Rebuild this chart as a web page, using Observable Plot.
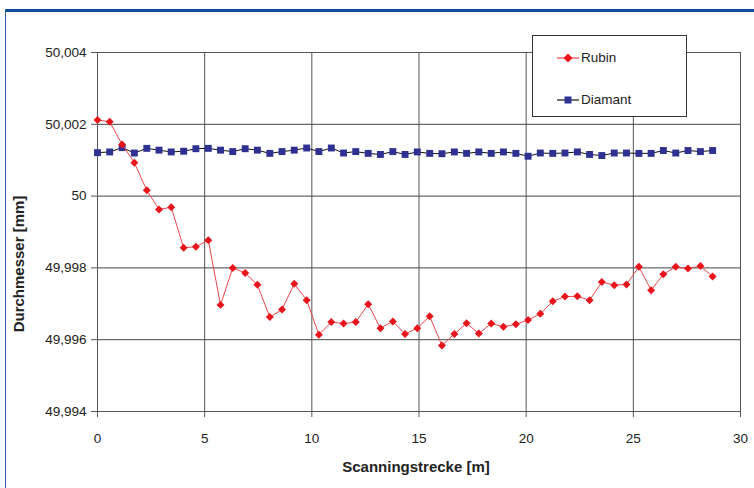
<!DOCTYPE html>
<html><head><meta charset="utf-8">
<script src="https://cdn.jsdelivr.net/npm/d3@7"></script>
<script src="https://cdn.jsdelivr.net/npm/@observablehq/plot@0.6"></script>
<style>
html,body{margin:0;padding:0;background:#fff;overflow:hidden}
#wrap{position:relative;width:754px;height:488px;font-family:"Liberation Sans",Arial,sans-serif;color:#222}
#chart svg{display:block}
.topbar{position:absolute;left:5px;top:9px;width:749px;height:3px;background:#0d4c9a}
.leftbar{position:absolute;left:5px;top:9px;width:1px;height:479px;background:#2a5fa8}
.ytitle{position:absolute;left:18px;top:264px;transform:translate(-50%,-50%) rotate(-90deg);font-weight:bold;font-size:15px;white-space:nowrap}
.xtitle{position:absolute;left:416px;top:466px;transform:translate(-50%,-50%);font-weight:bold;font-size:15px;white-space:nowrap}
.legend{position:absolute;left:532px;top:35px;width:155px;height:82px;box-sizing:border-box;border:1px solid #333;background:#fff}
.legend .row{position:absolute;left:24px;display:flex;align-items:center;font-size:13.5px}
.legend svg{display:block;margin-right:2px}
</style></head><body>
<div id="wrap"><div id="chart"></div>
<div class="topbar"></div><div class="leftbar"></div>
<div class="ytitle">Durchmesser [mm]</div>
<div class="xtitle">Scanningstrecke [m]</div>
<div class="legend">
 <div class="row" style="top:14px"><svg width="22" height="14"><line x1="0" x2="22" y1="7" y2="7" stroke="#e8474c" stroke-width="1.2"/><path d="M11,2.5L15.5,7L11,11.5L6.5,7Z" fill="#e8141c"/></svg><span>Rubin</span></div>
 <div class="row" style="top:56px"><svg width="22" height="14"><line x1="0" x2="22" y1="7" y2="7" stroke="#111" stroke-width="1.2"/><rect x="7.5" y="3.5" width="7" height="7" fill="#2e3192"/></svg><span>Diamant</span></div>
</div>
</div>
<script>
const scanPos = [0, 0.57, 1.15, 1.72, 2.30, 2.87, 3.44, 4.02, 4.59, 5.17, 5.74, 6.31, 6.89, 7.46, 8.04, 8.61, 9.18, 9.76, 10.33, 10.91, 11.48, 12.05, 12.63, 13.20, 13.78, 14.35, 14.92, 15.50, 16.07, 16.65, 17.22, 17.79, 18.37, 18.94, 19.52, 20.09, 20.66, 21.24, 21.81, 22.39, 22.96, 23.53, 24.11, 24.68, 25.26, 25.83, 26.40, 26.98, 27.55, 28.13, 28.70];
const rubin = [50.00212, 50.00207, 50.00144, 50.00093, 50.00016, 49.99963, 49.99969, 49.99856, 49.99859, 49.99877, 49.99697, 49.99800, 49.99786, 49.99753, 49.99663, 49.99684, 49.99756, 49.99710, 49.99614, 49.99649, 49.99645, 49.99649, 49.99699, 49.99632, 49.99651, 49.99616, 49.99632, 49.99665, 49.99584, 49.99616, 49.99646, 49.99617, 49.99645, 49.99636, 49.99643, 49.99655, 49.99672, 49.99707, 49.99720, 49.99721, 49.99710, 49.99761, 49.99752, 49.99754, 49.99803, 49.99738, 49.99782, 49.99803, 49.99798, 49.99805, 49.99776];
const diamant = [50.00121, 50.00123, 50.00135, 50.00120, 50.00133, 50.00128, 50.00123, 50.00125, 50.00132, 50.00133, 50.00128, 50.00124, 50.00132, 50.00128, 50.00119, 50.00124, 50.00128, 50.00134, 50.00124, 50.00134, 50.00120, 50.00124, 50.00119, 50.00116, 50.00124, 50.00116, 50.00123, 50.00119, 50.00118, 50.00123, 50.00119, 50.00123, 50.00119, 50.00123, 50.00119, 50.00111, 50.00120, 50.00119, 50.00120, 50.00123, 50.00116, 50.00113, 50.00120, 50.00120, 50.00119, 50.00119, 50.00127, 50.00120, 50.00127, 50.00124, 50.00127];
const xTicks = [0, 5, 10, 15, 20, 25, 30];
const yTicks = [49.994, 49.996, 49.998, 50, 50.002, 50.004];

const rubinData = scanPos.map((x, i) => ({x, y: rubin[i]}));
const diamantData = scanPos.map((x, i) => ({x, y: diamant[i]}));
const fmt = d => d3.format(".3~f")(d).replace(".", ",");

const chart = Plot.plot({
  width: 754, height: 488,
  marginLeft: 97, marginRight: 14, marginTop: 52, marginBottom: 77,
  style: {fontFamily: '"Liberation Sans", Arial, sans-serif', fontSize: "13.5px", color: "#222", background: "transparent"},
  x: {domain: [0, 30], ticks: xTicks},
  y: {domain: [49.994, 50.004], ticks: yTicks},
  marks: [
    Plot.gridX(xTicks, {stroke: "#555", strokeOpacity: 1, strokeWidth: 1}),
    Plot.gridY(yTicks, {stroke: "#444", strokeOpacity: 1, strokeWidth: 1}),
    Plot.frame({stroke: "#555"}),
    Plot.line(diamantData, {x: "x", y: "y", stroke: "#111", strokeWidth: 1}),
    Plot.dot(diamantData, {x: "x", y: "y", symbol: "square", r: 3.9, fill: "#2e3192", stroke: "none"}),
    Plot.line(rubinData, {x: "x", y: "y", stroke: "#e8474c", strokeWidth: 1}),
    Plot.dot(rubinData, {x: "x", y: "y", symbol: "diamond2", r: 3.6, fill: "#e8141c", stroke: "none"}),
    Plot.axisX(xTicks, {tickSize: 6, tickPadding: 16, tickFormat: d => String(d), label: null, stroke: "#555"}),
    Plot.axisY(yTicks, {tickSize: 6, tickPadding: 5, tickFormat: fmt, label: null, stroke: "#555"})
  ]
});
document.getElementById("chart").appendChild(chart);
</script>
</body></html>
